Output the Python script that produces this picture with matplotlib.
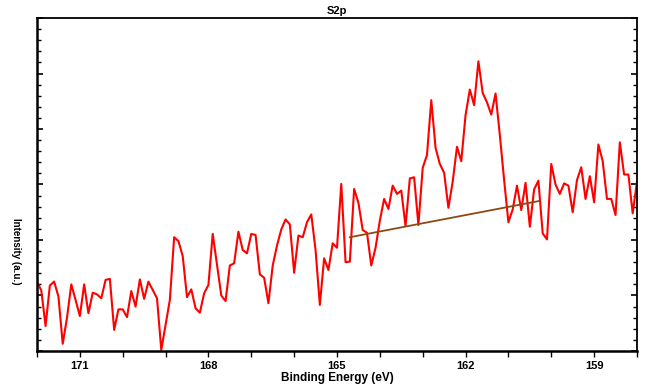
import numpy as np
import matplotlib
matplotlib.use("Agg")
import matplotlib.pyplot as plt
from matplotlib.ticker import MultipleLocator, FixedLocator

plt.rcParams['font.family'] = ['Liberation Sans', 'DejaVu Sans']

# binding energy 172.0 -> 158.0 eV, step 0.1
energy = np.round(np.arange(172.0, 157.95, -0.1), 1)

# S2p raw intensity (a.u.)
intensity = [
    125, 109, 45, 118, 125, 98, 13, 60, 120, 92,
    63, 120, 68, 105, 102, 95, 128, 130, 38, 75,
    75, 61, 108, 80, 129, 94, 125, 110, 95, 2,
    47, 92, 205, 198, 171, 97, 111, 77, 69, 104,
    119, 211, 155, 100, 90, 154, 158, 215, 182, 176,
    211, 209, 138, 132, 86, 154, 190, 219, 237, 228,
    141, 208, 205, 232, 246, 182, 83, 167, 146, 194,
    186, 301, 160, 161, 292, 267, 218, 213, 154, 186,
    235, 274, 256, 298, 283, 289, 225, 311, 313, 227,
    330, 353, 452, 366, 337, 321, 258, 305, 368, 342,
    425, 471, 443, 522, 465, 448, 426, 464, 389, 308,
    232, 255, 298, 254, 303, 224, 291, 307, 212, 201,
    337, 300, 283, 302, 298, 250, 308, 331, 274, 315,
    268, 372, 342, 274, 274, 245, 376, 318, 318, 248,
    305,
]

# linear background
bg_energy = [164.7, 160.3]
bg_intensity = [205, 270]

fig = plt.figure(figsize=(6.47, 3.88), dpi=100)
ax = fig.add_axes([0.0572, 0.0954, 0.9273, 0.8582])

ax.plot(energy, intensity, color='#ff0000', lw=1.5)
ax.plot(bg_energy, bg_intensity, color='#8b4a12', lw=1.3)

ax.set_xlim(172, 158)
ax.set_ylim(0, 600)

ax.xaxis.set_major_locator(FixedLocator([171, 168, 165, 162, 159]))
ax.xaxis.set_minor_locator(MultipleLocator(1))
ax.yaxis.set_major_locator(MultipleLocator(100))
ax.yaxis.set_minor_locator(MultipleLocator(20))

ax.tick_params(axis='x', which='both', direction='out', length=4, width=1,
               labelsize=8, pad=3)
ax.tick_params(axis='y', which='major', direction='in', length=4, width=1.2,
               left=True, right=True, labelleft=False)
ax.tick_params(axis='y', which='minor', direction='in', length=3, width=1,
               left=True, right=True)
for lbl in ax.get_xticklabels():
    lbl.set_fontweight('bold')

for s in ['left', 'bottom']:
    ax.spines[s].set_linewidth(1.8)
for s in ['top', 'right']:
    ax.spines[s].set_linewidth(1.3)

ax.set_title('S2p', fontsize=8, fontweight='bold', pad=3)
ax.set_xlabel('Binding Energy (eV)', fontsize=8.5, fontweight='bold', labelpad=1)
ax.set_ylabel('Intensity (a.u.)', fontsize=7, fontweight='bold', rotation=270)
ax.yaxis.set_label_coords(-0.043, 0.30)

fig.savefig('out.png', dpi=100)
